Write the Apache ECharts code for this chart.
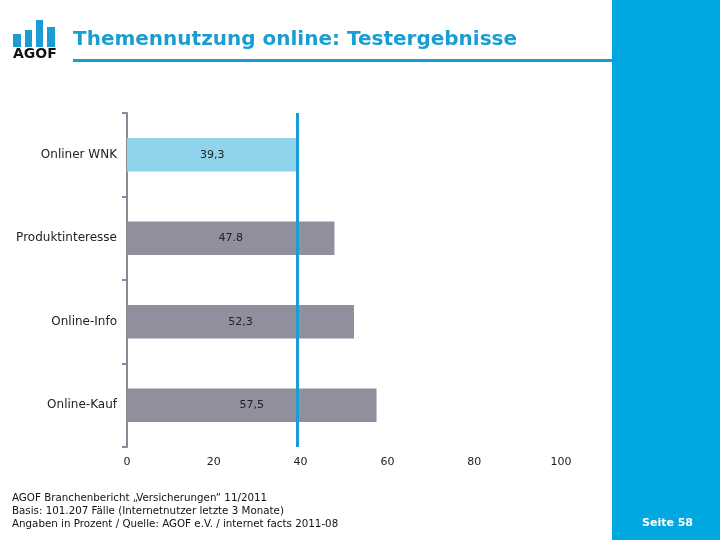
<!DOCTYPE html>
<html><head><meta charset="utf-8">
<script src="https://cdn.jsdelivr.net/npm/echarts@6/dist/echarts.min.js"></script>
<style>html,body{margin:0;padding:0;background:#fff}#c{width:720px;height:540px}</style>
</head><body><div id="c"></div>
<script>
const categories = ['Onliner WNK', 'Produktinteresse', 'Online-Info', 'Online-Kauf'];
const values = [39.3, 47.8, 52.3, 57.5];
const valueLabels = ['39,3', '47.8', '52,3', '57,5'];
const referenceValue = 39.3;
const xTicks = [0, 20, 40, 60, 80, 100];
const title = 'Themennutzung online: Testergebnisse';
const footer = ['AGOF Branchenbericht \u201eVersicherungen\u201c 11/2011', 'Basis: 101.207 F\u00e4lle (Internetnutzer letzte 3 Monate)', 'Angaben in Prozent / Quelle: AGOF e.V. / internet facts 2011-08'];
const pageLabel = 'Seite 58';

const BLUE = '#1a9dd2';
const chart = echarts.init(document.getElementById('c'));
const font = 'DejaVu Sans, Verdana, sans-serif';
chart.setOption({
  animation: false,
  grid: { left: 127, right: 159, top: 113, bottom: 93 },
  xAxis: {
    type: 'value', min: xTicks[0], max: xTicks[xTicks.length - 1], interval: xTicks[1] - xTicks[0],
    axisLine: { show: false }, axisTick: { show: false }, splitLine: { show: false },
    axisLabel: { color: '#222', fontFamily: font, fontSize: 11, margin: 10 }
  },
  yAxis: {
    type: 'category', data: categories, inverse: true,
    axisLine: { show: true, lineStyle: { color: '#8a8a96', width: 2 } },
    axisTick: { show: true, inside: false, lineStyle: { color: '#8a8a96', width: 2 }, length: 5 },
    axisLabel: { color: '#222', fontFamily: font, fontSize: 12, margin: 10 }
  },
  series: [{
    type: 'bar', barCategoryGap: '60%',
    data: values.map((v, i) => ({ value: v, itemStyle: { color: i === 0 ? '#8fd3ec' : '#8f8f9d' } })),
    label: { show: true, position: 'inside', color: '#222', fontFamily: font, fontSize: 11,
      formatter: p => valueLabels[p.dataIndex] },
    markLine: {
      symbol: 'none', silent: true, label: { show: false },
      lineStyle: { color: BLUE, width: 3, type: 'solid' },
      data: [{ xAxis: referenceValue }]
    }
  }],
  graphic: [
    { type: 'rect', shape: { x: 612, y: 0, width: 108, height: 540 }, style: { fill: '#00a8e1' } },
    { type: 'text', left: 642, top: 518, style: { text: pageLabel, fill: '#fff', font: 'bold 11px ' + font } },
    { type: 'text', left: 73, top: 30, style: { text: title, fill: BLUE, font: 'bold 20px ' + font } },
    { type: 'rect', shape: { x: 73, y: 59, width: 539, height: 3 }, style: { fill: BLUE } },
    { type: 'rect', shape: { x: 13, y: 34, width: 8, height: 13 }, style: { fill: BLUE } },
    { type: 'rect', shape: { x: 25, y: 30, width: 7, height: 17 }, style: { fill: BLUE } },
    { type: 'rect', shape: { x: 36, y: 20, width: 7, height: 27 }, style: { fill: BLUE } },
    { type: 'rect', shape: { x: 47, y: 27, width: 8, height: 20 }, style: { fill: BLUE } },
    { type: 'text', left: 13, top: 47, style: { text: 'AGOF', fill: '#111', font: 'bold 14px ' + font } },
    { type: 'text', left: 12, top: 492, style: { text: footer.join('\n'), fill: '#111', font: '10.3px ' + font, lineHeight: 13 } }
  ]
});
</script></body></html>
